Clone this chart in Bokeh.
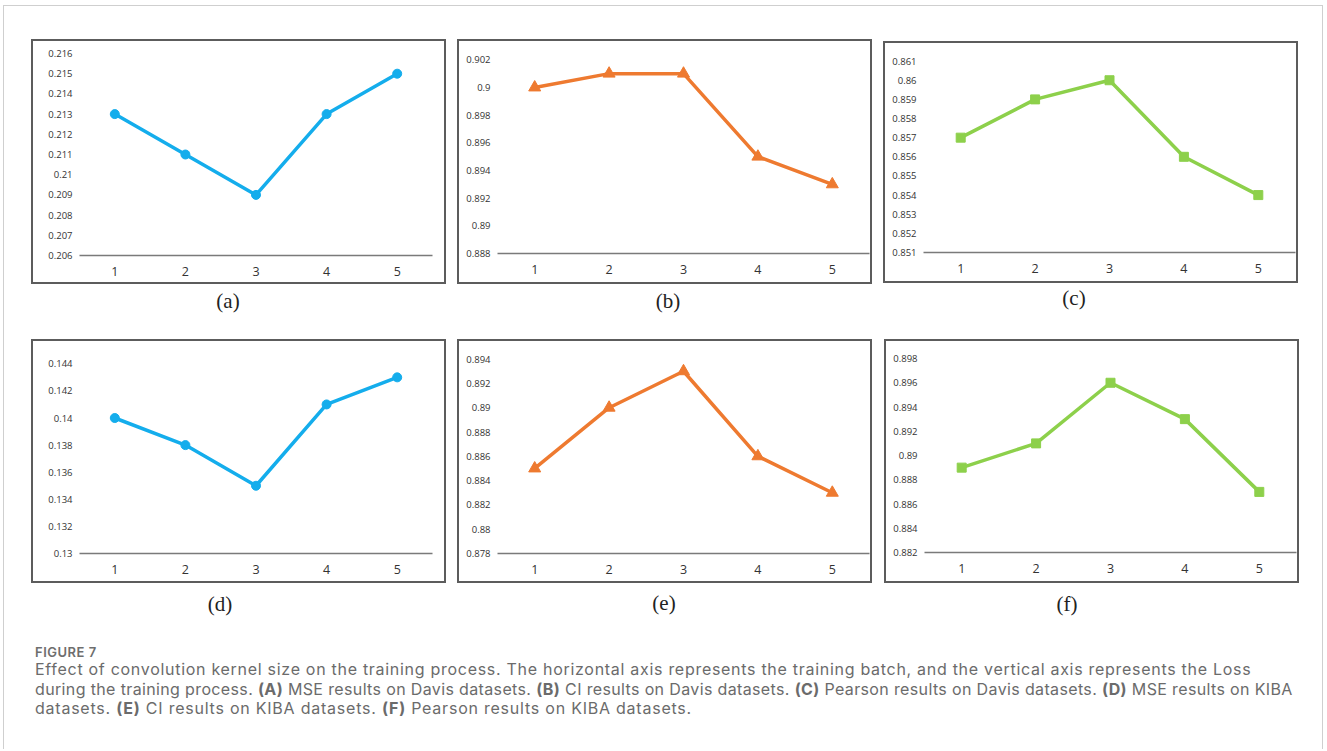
from bokeh.plotting import figure
from bokeh.layouts import column, row
from bokeh.models import Div, FixedTicker, CustomJSTickFormatter, Range1d
from bokeh.embed import file_html
from bokeh.resources import INLINE

# ---------------- data ----------------
batches = [1, 2, 3, 4, 5]
mse_davis = [0.213, 0.211, 0.209, 0.213, 0.215]
ci_davis = [0.900, 0.901, 0.901, 0.895, 0.893]
pearson_davis = [0.857, 0.859, 0.860, 0.856, 0.854]
mse_kiba = [0.140, 0.138, 0.135, 0.141, 0.143]
ci_kiba = [0.885, 0.890, 0.893, 0.886, 0.883]
pearson_kiba = [0.889, 0.891, 0.896, 0.893, 0.887]

yticks_a = [0.206, 0.207, 0.208, 0.209, 0.210, 0.211, 0.212, 0.213, 0.214, 0.215, 0.216]
yticks_b = [0.888, 0.890, 0.892, 0.894, 0.896, 0.898, 0.900, 0.902]
yticks_c = [0.851, 0.852, 0.853, 0.854, 0.855, 0.856, 0.857, 0.858, 0.859, 0.860, 0.861]
yticks_d = [0.130, 0.132, 0.134, 0.136, 0.138, 0.140, 0.142, 0.144]
yticks_e = [0.878, 0.880, 0.882, 0.884, 0.886, 0.888, 0.890, 0.892, 0.894]
yticks_f = [0.882, 0.884, 0.886, 0.888, 0.890, 0.892, 0.894, 0.896, 0.898]

panel_labels = ["(a)", "(b)", "(c)", "(d)", "(e)", "(f)"]
caption_title = "FIGURE 7"
caption_line1 = ("Effect of convolution kernel size on the training process. The horizontal axis "
                 "represents the training batch, and the vertical axis represents the Loss")
caption_line2 = ("during the training process. <b>(A)</b> MSE results on Davis datasets. <b>(B)</b> CI results "
                 "on Davis datasets. <b>(C)</b> Pearson results on Davis datasets. <b>(D)</b> MSE results on KIBA")
caption_line3 = ("datasets. <b>(E)</b> CI results on KIBA datasets. <b>(F)</b> Pearson results on KIBA datasets.")

# ---------------- styles ----------------
BLUE = "#14ADEC"
ORANGE = "#EE7A30"
GREEN = "#8DD04B"

series = [mse_davis, ci_davis, pearson_davis, mse_kiba, ci_kiba, pearson_kiba]
yticks = [yticks_a, yticks_b, yticks_c, yticks_d, yticks_e, yticks_f]
colors = [BLUE, ORANGE, GREEN, BLUE, ORANGE, GREEN]
markers = ["circle", "triangle", "square", "circle", "triangle", "square"]
msizes = [9, 12, 9, 9, 12, 9]

# geometry: box size, margins, frame borders, px-per-unit scale, label offsets
geo = [
    dict(top=33, left=27, w=415, h=245, fl=46, fr=16, fb=31, scale=20200, ldx=167, ldy=5),
    dict(top=33, left=11, w=415, h=245, fl=38, fr=5, fb=33, scale=13836, ldx=181, ldy=5),
    dict(top=35, left=11, w=415, h=242, fl=38, fr=5, fb=33, scale=19140, ldx=161, ldy=3),
    dict(top=26, left=27, w=415, h=244, fl=46, fr=16, fb=32, scale=13550, ldx=159, ldy=9),
    dict(top=26, left=11, w=415, h=244, fl=38, fr=5, fb=32, scale=12150, ldx=177, ldy=8),
    dict(top=26, left=12, w=415, h=244, fl=38, fr=5, fb=33, scale=12125, ldx=153, ldy=9),
]
TOP = 8

fmt = CustomJSTickFormatter(code="return String(parseFloat(tick.toFixed(3)));")


def make_panel(i):
    g = geo[i]
    fw, fh = g["w"], g["h"]
    ys = series[i]
    ticks = yticks[i]
    frame_h = fh - TOP - g["fb"]
    y0 = ticks[0]
    y1 = y0 + frame_h / g["scale"]
    p = figure(width=fw, height=fh, title=None, toolbar_location=None, output_backend="svg",
               x_range=Range1d(0.5, 5.5), y_range=Range1d(y0, y1),
               min_border_left=g["fl"], min_border_right=g["fr"],
               min_border_top=TOP, min_border_bottom=g["fb"],
               styles={"border": "2px solid #5c5c5c"})
    p.outline_line_color = None
    p.grid.visible = False
    p.background_fill_color = "white"
    p.border_fill_color = "white"

    p.line(batches, ys, line_color=colors[i], line_width=3.5, line_join="round")
    p.scatter(batches, ys, marker=markers[i], size=msizes[i],
              fill_color=colors[i], line_color=colors[i])

    xa = p.xaxis[0]
    xa.ticker = FixedTicker(ticks=batches)
    xa.axis_line_color = "#7a7a7a"
    xa.axis_line_width = 1.5
    xa.major_tick_line_color = None
    xa.minor_tick_line_color = None
    xa.major_tick_out = 0
    xa.major_label_standoff = 11
    xa.major_label_text_font = "Open Sans"
    xa.major_label_text_font_size = "12.5px"
    xa.major_label_text_color = "#333333"

    ya = p.yaxis[0]
    ya.ticker = FixedTicker(ticks=ticks)
    ya.formatter = fmt
    ya.axis_line_color = None
    ya.major_tick_line_color = None
    ya.minor_tick_line_color = None
    ya.major_tick_out = 0
    ya.major_label_standoff = 7
    ya.major_label_text_font = "Open Sans"
    ya.major_label_text_font_size = "9.5px"
    ya.major_label_text_color = "#333333"

    lab = Div(text=panel_labels[i], width=60, height=24,
              margin=(g["ldy"], 0, 0, g["ldx"]),
              styles={"font-family": "'Liberation Serif', 'Times New Roman', serif",
                      "font-size": "21px", "line-height": "24px", "color": "#222",
                      "text-align": "center"})
    return column(p, lab, spacing=0, margin=(g["top"], 0, 0, g["left"]))


panels = [make_panel(i) for i in range(6)]
row1 = row(panels[0], panels[1], panels[2], spacing=0)
row2 = row(panels[3], panels[4], panels[5], spacing=0)

line_style = "font-size:16px; line-height:19.5px; height:19.5px; white-space:nowrap;"
cap_html = (
    '<div style="font-family: Inter, sans-serif; color:#6b6b6b;">'
    f'<div style="font-size:13px; line-height:16px; height:16px; font-weight:600; '
    f'letter-spacing:0.5px; color:#6e6e6e;">{caption_title}</div>'
    f'<div style="{line_style} letter-spacing:0.71px;">{caption_line1}</div>'
    f'<div style="{line_style} letter-spacing:0.36px;">{caption_line2}</div>'
    f'<div style="{line_style} letter-spacing:0.77px;">{caption_line3}</div>'
    '</div>'
)
caption = Div(text=cap_html, width=1285, height=76, margin=(28, 0, 0, 31))

root = column(row1, row2, caption, spacing=0, width=1320, height=744,
              margin=(5, 0, 0, 3),
              styles={"border-top": "1px solid #cfcfcf", "border-left": "1px solid #cfcfcf",
                      "border-right": "1px solid #cfcfcf", "background": "white"})

open("out.html", "w").write(file_html(root, INLINE))
